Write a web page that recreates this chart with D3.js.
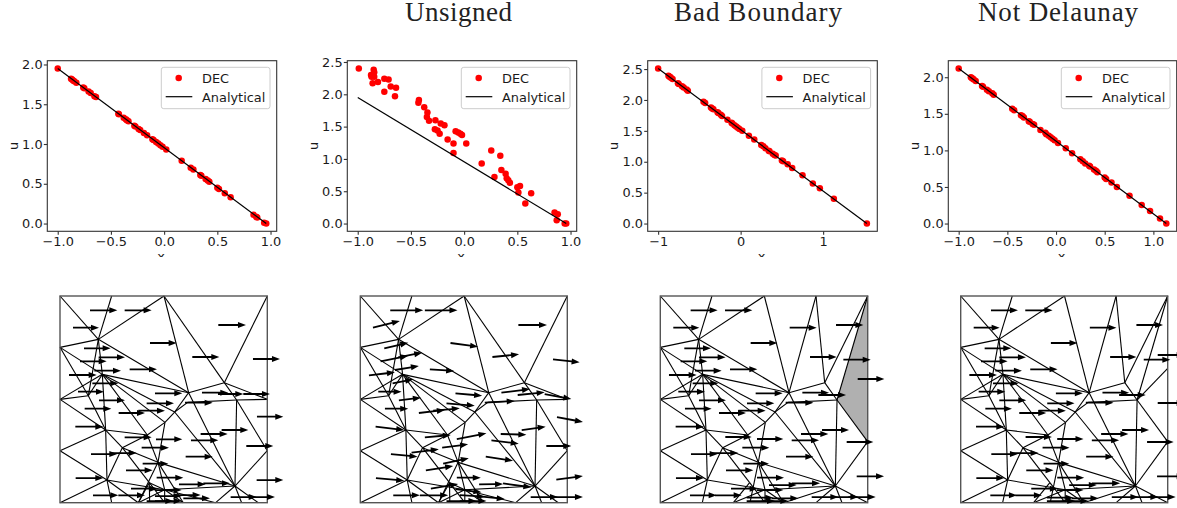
<!DOCTYPE html>
<html><head><meta charset="utf-8">
<script src="https://cdn.jsdelivr.net/npm/d3@7"></script>
<style>html,body{margin:0;padding:0;background:#fff;overflow:hidden}svg{display:block}</style>
</head><body><svg id="c" width="1177" height="508"></svg>
<script>
// ---------- titles ----------
const titles = ["", "Unsigned", "Bad Boundary", "Not Delaunay"];

// ---------- scatter data ----------
const xPlain = [-1.0,-.875,-.865,-.855,-.845,-.825,-.76,-.75,-.71,-.69,-.655,-.64,-.43,-.425,-.38,-.36,-.35,-.335,-.28,-.27,-.24,-.225,-.19,-.16,-.11,-.10,-.075,-.055,-.035,-.015,.02,.165,.25,.275,.34,.35,.39,.41,.425,.5,.515,.57,.625,.84,.865,.875,.94,.96];
const uPlain = [1.95,1.82,1.81,1.80,1.79,1.77,1.71,1.70,1.66,1.64,1.60,1.59,1.38,1.375,1.33,1.31,1.30,1.285,1.23,1.22,1.19,1.175,1.14,1.11,1.06,1.05,1.025,1.005,.985,.965,.93,.79,.70,.68,.61,.60,.56,.54,.525,.45,.435,.38,.33,.11,.085,.075,.01,0];
const xUnsigned = [-.99,-.875,-.87,-.85,-.845,-.845,-.86,-.81,-.75,-.71,-.75,-.69,-.64,-.65,-.425,-.43,-.375,-.345,-.35,-.33,-.27,-.275,-.25,-.23,-.22,-.185,-.155,-.10,-.10,-.08,-.055,-.035,-.02,.02,.165,.255,.285,.34,.35,.39,.40,.415,.43,.50,.51,.525,.575,.63,.85,.88,.87,.945,.96];
const uUnsigned = [2.40,2.30,2.27,2.38,2.34,2.27,2.17,2.19,2.24,2.23,2.04,2.12,2.10,1.97,1.91,1.87,1.80,1.72,1.65,1.59,1.60,1.46,1.44,1.39,1.55,1.52,1.30,1.24,1.09,1.43,1.41,1.39,1.37,1.24,.93,1.13,.72,1.05,.83,.77,.70,.67,.63,.56,.48,.58,.31,.47,.17,.145,.05,0,0];
const xBad = [-1.0,-.875,-.865,-.855,-.845,-.825,-.76,-.75,-.71,-.69,-.655,-.64,-.45,-.43,-.36,-.345,-.33,-.28,-.27,-.24,-.225,-.16,-.11,-.10,-.075,-.055,-.035,-.015,.02,.10,.165,.25,.275,.3,.34,.35,.39,.41,.425,.5,.515,.57,.625,.75,.875,.96,1.13,1.53];
const uBad = [2.51,2.39,2.38,2.37,2.36,2.34,2.27,2.26,2.22,2.20,2.17,2.15,1.97,1.95,1.88,1.86,1.85,1.80,1.79,1.76,1.74,1.68,1.63,1.62,1.59,1.57,1.55,1.53,1.50,1.42,1.36,1.27,1.25,1.22,1.18,1.17,1.13,1.11,1.10,1.02,1.01,.96,.90,.78,.65,.57,.40,0];
const xDel = [-1.0,-.875,-.865,-.855,-.845,-.825,-.76,-.75,-.71,-.69,-.655,-.64,-.45,-.43,-.36,-.345,-.33,-.28,-.27,-.24,-.225,-.16,-.11,-.10,-.075,-.055,-.035,-.015,.02,.10,.165,.25,.275,.3,.34,.35,.39,.41,.425,.5,.515,.57,.625,.755,.88,.966,1.068,1.133];
const uDel = [2.12,2.00,1.99,1.98,1.97,1.95,1.88,1.87,1.83,1.81,1.78,1.76,1.57,1.55,1.48,1.47,1.45,1.40,1.39,1.36,1.35,1.28,1.24,1.22,1.20,1.18,1.16,1.14,1.10,1.03,.96,.88,.85,.82,.79,.78,.74,.72,.70,.63,.61,.56,.50,.38,.255,.17,.07,0];
const lineX = [[-1,.96],[-1,.96],[-1,1.53],[-1,1.133]];
const lineU = [[1.95,0],[1.95,0],[2.51,0],[2.12,0]];
const xTicks = [[-1,-.5,0,.5,1],[-1,-.5,0,.5,1],[-1,0,1],[-1,-.5,0,.5,1]];
const yTicks = [[0,.5,1,1.5,2],[0,.5,1,1.5,2,2.5],[0,.5,1,1.5,2,2.5],[0,.5,1,1.5,2]];

// ---------- mesh data (mesh units) ----------
const meshNodes = {
 a:[60,33],b:[215,33],c:[372,33],d:[682,33],T:[527,33],e:[60,187],f:[60,343],g:[60,497],h:[60,653],
 i:[215,653],i3:[186,653],j:[295,653],j3:[279,653],F:[329,653],G:[374,653],H:[430,653],k:[527,653],l:[605,653],m:[655,653],n:[682,653],
 o:[682,343],o4:[682,250],p:[682,497],R:[682,470],
 q:[175,163],r:[187,268],s:[145,332],t:[197,435],u:[247,488],v:[201,585],w:[322,450],x:[354,532],y:[375,412],z:[404,381],
 A:[446,323],B:[553,293],C:[590,345],D:[585,603],E:[374,614],P:[328,593],J:[443,352]
};
const edgesCommon = "a-q b-q c-q e-q e-r e-s q-A q-s q-r r-A r-s r-f f-s f-t s-t r-t t-v r-w r-y r-z t-w w-y w-u w-x y-x y-z z-A z-J J-C z-D A-D A-B B-C t-u g-t g-v u-v u-x x-D v-h v-E E-D C-D c-A x-E u-P E-G P-G".split(" ");
const edgesSmooth = "v-i v-j j-P j-E P-E P-F x-j x-H E-k E-H D-k D-l D-m D-p C-p C-o B-o c-B d-B".split(" ");
const edgesBad = "v-i3 j3-P j3-E x-F x-H E-H D-H D-k D-l D-n D-R C-R d-B d-C T-A T-B".split(" ");
const edgesDel = "v-i3 j3-P j3-E x-F x-H E-H D-H D-k D-l D-n D-R C-R d-B d-C T-A T-B C-o4".split(" ");
const grayCell = [null,null,["d","C","R"],null];
const meshEdges = [edgesSmooth,edgesSmooth,edgesBad,edgesDel];

// ---------- velocity arrows [tail x, tail y, tip x, tip y] ----------
const arrowsPlain = [[150,76,232,76],[254,76,335,76],[99,128,177,128],[535,120,618,120],[330,174,410,174],[457,216,538,216],[639,222,720,222],[132,190,212,190],[176,217,255,217],[120,229,200,229],[163,257,243,257],[269,253,351,253],[87,270,170,270],[157,295,235,295],[114,320,192,320],[345,325,427,325],[486,323,565,323],[534,327,610,327],[610,327,690,327],[177,346,255,346],[320,355,402,355],[435,353,518,353],[134,371,214,371],[236,384,315,384],[295,377,375,377],[651,395,730,395],[106,425,190,425],[254,457,335,457],[348,463,427,463],[482,447,563,447],[545,435,625,435],[453,466,535,466],[305,488,387,488],[619,483,700,483],[153,507,232,507],[210,504,290,504],[437,515,518,515],[308,536,385,536],[258,556,338,556],[107,579,190,579],[350,578,430,578],[417,598,497,598],[490,595,570,595],[273,611,353,611],[345,615,425,615],[159,631,235,631],[235,631,315,631],[345,633,425,633],[400,630,482,630],[430,640,510,640],[572,636,650,636],[625,636,705,636],[650,585,730,585],[320,648,400,648],[345,648,425,648]];
const arrowsUnsigned = [[136,76,235,76],[240,76,338,76],[84,128,165,108],[521,120,607,120],[317,174,400,185],[443,216,523,208],[625,223,705,232],[118,190,190,173],[107,229,190,212],[160,217,232,203],[150,255,222,243],[255,253,328,258],[72,271,150,262],[143,295,205,283],[100,320,170,320],[332,325,412,332],[470,323,556,312],[519,330,600,322],[600,327,680,342],[162,346,228,338],[305,355,390,362],[420,353,510,348],[120,371,190,371],[222,384,300,375],[265,377,345,370],[637,396,715,411],[92,425,178,435],[240,457,318,450],[336,462,425,445],[468,447,545,449],[531,435,603,425],[440,466,522,476],[292,488,370,478],[605,483,680,483],[138,507,218,515],[200,503,282,493],[423,515,505,527],[295,536,372,520],[243,556,325,543],[93,579,178,587],[336,578,408,578],[403,598,475,597],[475,595,560,607],[258,611,340,597],[332,612,410,622],[145,631,225,631],[225,631,310,631],[345,630,420,635],[398,633,480,642],[558,636,640,636],[625,636,715,636],[635,584,715,573],[305,648,395,648],[345,648,425,648]];
const arrowsBad = [[137,76,218,76],[240,76,322,76],[85,128,163,128],[573,120,655,120],[317,174,397,174],[434,128,515,128],[495,216,575,216],[595,224,677,224],[638,282,718,282],[118,190,198,190],[162,217,242,217],[107,229,187,229],[150,257,230,257],[255,253,337,253],[72,270,155,270],[143,295,220,295],[100,320,180,320],[332,325,413,325],[472,323,552,323],[520,330,603,330],[162,346,243,346],[306,355,388,355],[422,353,505,353],[120,371,200,371],[222,384,303,384],[280,377,362,377],[92,425,177,425],[241,456,320,456],[336,462,415,462],[468,447,550,447],[531,435,612,435],[440,466,522,466],[605,471,685,471],[292,488,373,488],[138,507,218,507],[197,504,280,504],[423,515,505,515],[295,536,372,536],[243,556,325,556],[93,579,177,579],[336,578,417,578],[372,600,455,600],[440,595,525,595],[258,611,338,611],[335,615,415,615],[135,631,215,631],[210,631,290,631],[305,638,385,638],[380,640,460,640],[500,636,580,636],[560,636,640,636],[610,636,692,636],[635,574,717,574],[305,648,390,648],[350,648,430,648]];
const arrowsDel = [[138,76,219,76],[241,76,323,76],[86,128,164,128],[575,120,655,120],[318,174,398,174],[435,128,515,128],[496,216,575,216],[597,224,677,224],[639,210,720,210],[639,354,720,354],[119,190,199,190],[163,217,243,217],[108,229,188,229],[151,257,231,257],[256,253,338,253],[73,270,156,270],[144,295,221,295],[101,320,181,320],[333,325,414,325],[473,323,553,323],[523,330,603,330],[163,346,244,346],[307,355,389,355],[423,353,506,353],[121,371,201,371],[223,384,304,384],[281,377,363,377],[93,425,178,425],[242,456,321,456],[337,462,416,462],[469,447,551,447],[532,435,613,435],[441,466,523,466],[607,471,687,471],[293,488,374,488],[139,507,219,507],[198,504,281,504],[424,515,506,515],[296,536,373,536],[244,556,326,556],[94,579,178,579],[337,578,418,578],[373,600,456,600],[441,595,526,595],[259,611,339,611],[336,615,416,615],[136,631,216,631],[211,631,291,631],[306,638,386,638],[381,640,461,640],[501,636,581,636],[561,636,641,636],[611,636,693,636],[637,574,720,574],[306,648,391,648],[351,648,431,648]];

// ---------- layout ----------
const xs = [xPlain,xUnsigned,xBad,xDel], us = [uPlain,uUnsigned,uBad,uDel];
const arrows = [arrowsPlain,arrowsUnsigned,arrowsBad,arrowsDel];
const arrowFrame = [60,46,46,47];
const plotL = [47.3,347.3,647.7,948.3], plotR = [276.7,576.7,877.3,1176.7];
const plotT = 60.7, plotB = 231.3;
const meshL = [60,360.3,660.3,960.7], meshR = [267.3,567.3,867.7,1167.7];
const meshT = 296, meshB = 502.7;
const titleMid = [0,458.5,758,1058], titleLen = [0,107,168,160];
const FONT = "'DejaVu Sans'";
const FS = 12.9;
const fmt1 = d => d3.format(".1f")(d).replace("-","\u2212");
const fmt0 = d => d3.format("d")(d).replace("-","\u2212");

const svg = d3.select("#c");
svg.append("defs").append("clipPath").attr("id","xclip").attr("clipPathUnits","userSpaceOnUse").append("rect").attr("x",0).attr("y",0).attr("width",1177).attr("height",257);

titles.forEach((t,i)=>{
  if(!t) return;
  svg.append("text").text(t).attr("x",titleMid[i]).attr("y",20.5).attr("text-anchor","middle")
    .attr("font-family","'Liberation Serif'").attr("font-size",27).attr("fill","#222")
    .attr("textLength",titleLen[i]).attr("lengthAdjust","spacing");
});

xs.forEach((X,i)=>{
  const U = us[i];
  const xExt = d3.extent(lineX[i]), uExt = [0, d3.max(U)];
  const xs0 = xExt[1]-xExt[0], us0 = uExt[1]-uExt[0];
  const x = d3.scaleLinear().domain([xExt[0]-.05*xs0,xExt[1]+.05*xs0]).range([plotL[i],plotR[i]]);
  const y = d3.scaleLinear().domain([uExt[0]-.05*us0,uExt[1]+.05*us0]).range([plotB,plotT]);
  const g = svg.append("g");
  g.append("rect").attr("x",plotL[i]).attr("y",plotT).attr("width",plotR[i]-plotL[i]).attr("height",plotB-plotT).attr("fill","#fff");
  g.selectAll("circle.dec").data(d3.range(X.length)).join("circle").attr("class","dec")
    .attr("cx",k=>x(X[k])).attr("cy",k=>y(U[k])).attr("r",3.25).attr("fill","#ff0000");
  g.append("path").attr("d",d3.line()(lineX[i].map((v,k)=>[x(v),y(lineU[i][k])])))
    .attr("stroke","#000").attr("stroke-width",1.2).attr("fill","none");
  g.append("rect").attr("x",plotL[i]).attr("y",plotT).attr("width",plotR[i]-plotL[i]).attr("height",plotB-plotT)
    .attr("fill","none").attr("stroke","#333").attr("stroke-width",1.1);
  const ax = d3.axisBottom(x).tickValues(xTicks[i]).tickFormat(i===2?fmt0:fmt1).tickSize(3.5).tickPadding(2.5);
  const ay = d3.axisLeft(y).tickValues(yTicks[i]).tickFormat(fmt1).tickSize(3.5).tickPadding(1.2);
  const gx = g.append("g").attr("transform",`translate(0,${plotB})`).call(ax);
  const gy = g.append("g").attr("transform",`translate(${plotL[i]},0)`).call(ay);
  [gx,gy].forEach(s=>{
    s.select(".domain").remove();
    s.selectAll("line").attr("stroke","#333").attr("stroke-width",1.1);
    s.selectAll("text").attr("font-family",FONT).attr("font-size",FS).attr("fill","#1a1a1a");
  });
  g.append("text").text("u").attr("transform",`translate(${plotL[i]-29.5},146) rotate(-90)`).attr("text-anchor","middle")
    .attr("font-family",FONT).attr("font-size",FS).attr("fill","#1a1a1a");
  g.append("text").text("x").attr("x",(plotL[i]+plotR[i])/2-1).attr("y",261).attr("text-anchor","middle")
    .attr("font-family",FONT).attr("font-size",FS).attr("fill","#1a1a1a").attr("clip-path","url(#xclip)");
  // legend
  const lr = plotR[i]-6.7, ll = lr-108.7, lt = plotT+6.6;
  g.append("rect").attr("x",ll).attr("y",lt).attr("width",108.7).attr("height",41.4).attr("rx",2.5)
    .attr("fill","#fff").attr("fill-opacity",.8).attr("stroke","#ccc").attr("stroke-width",1);
  g.append("circle").attr("cx",ll+17.4).attr("cy",lt+10.7).attr("r",3.25).attr("fill","#ff0000");
  g.append("line").attr("x1",ll+4.4).attr("x2",ll+31).attr("y1",lt+29.4).attr("y2",lt+29.4).attr("stroke","#000").attr("stroke-width",1.2);
  [["DEC",10.7],["Analytical",29.4]].forEach(([t,dy])=>{
    g.append("text").text(t).attr("x",ll+40.7).attr("y",lt+dy+4.8).attr("font-family",FONT).attr("font-size",FS).attr("fill","#1a1a1a");
  });

  // mesh
  const mx = d3.scaleLinear().domain([60,682]).range([meshL[i],meshR[i]]);
  const my = d3.scaleLinear().domain([33,653]).range([meshT,meshB]);
  const ax2 = d3.scaleLinear().domain([arrowFrame[i],arrowFrame[i]+622]).range([meshL[i],meshR[i]]);
  const m = svg.append("g");
  if(grayCell[i]){
    m.append("polygon").attr("points",grayCell[i].map(n=>[mx(meshNodes[n][0]),my(meshNodes[n][1])].join(",")).join(" ")).attr("fill","#b0b0b0");
  }
  const pairs = edgesCommon.concat(meshEdges[i]).map(s=>s.split("-"));
  m.selectAll("line.edge").data(pairs).join("line").attr("class","edge")
    .attr("x1",d=>mx(meshNodes[d[0]][0])).attr("y1",d=>my(meshNodes[d[0]][1]))
    .attr("x2",d=>mx(meshNodes[d[1]][0])).attr("y2",d=>my(meshNodes[d[1]][1]))
    .attr("stroke","#000").attr("stroke-width",1.1);
  m.append("rect").attr("x",mx(60)).attr("y",my(33)).attr("width",mx(682)-mx(60)).attr("height",my(653)-my(33))
    .attr("fill","none").attr("stroke","#555").attr("stroke-width",1.4);
  const arrowPath = a=>{
    const x0=ax2(a[0]),y0=my(a[1]),x1=ax2(a[2]),y1=my(a[3]);
    const L=Math.hypot(x1-x0,y1-y0),ux=(x1-x0)/L,uy=(y1-y0)/L,px=-uy,py=ux;
    const hl=8,hw=3,sw=.9,bx=x1-hl*ux,by=y1-hl*uy;
    const P=[[x0+px*sw,y0+py*sw],[bx+px*sw,by+py*sw],[bx+px*hw,by+py*hw],[x1,y1],[bx-px*hw,by-py*hw],[bx-px*sw,by-py*sw],[x0-px*sw,y0-py*sw]];
    return "M"+P.map(p=>p.map(v=>v.toFixed(2)).join(",")).join("L")+"Z";
  };
  m.selectAll("path.arrow").data(arrows[i]).join("path").attr("class","arrow").attr("d",arrowPath).attr("fill","#000");
});
</script></body></html>
